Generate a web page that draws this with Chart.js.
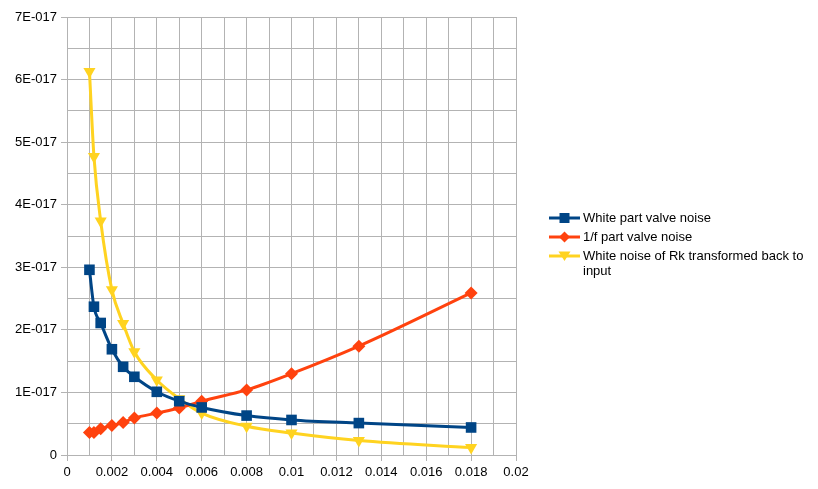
<!DOCTYPE html>
<html>
<head>
<meta charset="utf-8">
<script src="https://cdn.jsdelivr.net/npm/chart.js@4/dist/chart.umd.min.js"></script>
<style>
  html, body { margin: 0; padding: 0; background: #fff; }
  #wrap { width: 818px; height: 489px; position: relative; }
</style>
</head>
<body>
<div id="wrap"><canvas id="grafico" width="818" height="489"></canvas></div>
<script>
// valores (y em unidades de 1E-017)
const freq = [0.001, 0.0012, 0.0015, 0.002, 0.0025, 0.003, 0.004, 0.005, 0.006, 0.008, 0.01, 0.013, 0.018];
const whiteValve = [2.96, 2.37, 2.11, 1.69, 1.41, 1.25, 1.01, 0.86, 0.76, 0.63, 0.56, 0.51, 0.44];
const flickerValve = [0.36, 0.36, 0.42, 0.47, 0.52, 0.59, 0.67, 0.75, 0.86, 1.04, 1.3, 1.74, 2.59];
const whiteRk = [6.13, 4.77, 3.74, 2.64, 2.1, 1.65, 1.2, 0.9, 0.67, 0.46, 0.35, 0.23, 0.12];
const seriesNames = ['White part valve noise', '1/f part valve noise', ['White noise of Rk transformed back to', 'input']];

const grid = '#b3b3b3';
const cores = ['#004586', '#ff420e', '#ffd320'];

const pontos = vals => freq.map((f, i) => ({ x: f, y: vals[i] }));

// legenda desenhada à mão (linha + marcador, texto quebrado em duas linhas)
const legendaPlugin = {
  id: 'legenda',
  afterDraw(chart) {
    const ctx = chart.ctx;
    const linhas = [218, 237, 256];
    ctx.save();
    chart.data.datasets.forEach((ds, i) => {
      const y = linhas[i];
      ctx.strokeStyle = ds.borderColor;
      ctx.lineWidth = 3;
      ctx.beginPath();
      ctx.moveTo(549, y);
      ctx.lineTo(580, y);
      ctx.stroke();
      ctx.fillStyle = ds.borderColor;
      const cx = 564.5;
      ctx.beginPath();
      if (i === 0) {
        ctx.rect(cx - 5, y - 5, 10, 10);
      } else if (i === 1) {
        ctx.moveTo(cx, y - 5.5); ctx.lineTo(cx + 5.5, y); ctx.lineTo(cx, y + 5.5); ctx.lineTo(cx - 5.5, y);
      } else {
        ctx.moveTo(cx - 6, y - 4.5); ctx.lineTo(cx + 6, y - 4.5); ctx.lineTo(cx, y + 5);
      }
      ctx.closePath();
      ctx.fill();
      ctx.fillStyle = '#000';
      ctx.font = '13px "Liberation Sans", Arial, sans-serif';
      ctx.textBaseline = 'middle';
      const txt = [].concat(seriesNames[i]);
      txt.forEach((t, k) => ctx.fillText(t, 583, y + k * 15));
    });
    ctx.restore();
  }
};

new Chart(document.getElementById('grafico').getContext('2d'), {
  type: 'line',
  data: {
    datasets: [
      { label: 'White part valve noise', data: pontos(whiteValve), borderColor: cores[0], backgroundColor: cores[0],
        pointStyle: 'rect', pointRadius: 7.5 },
      { label: '1/f part valve noise', data: pontos(flickerValve), borderColor: cores[1], backgroundColor: cores[1],
        pointStyle: 'rectRot', pointRadius: 6.5 },
      { label: 'White noise of Rk transformed back to input', data: pontos(whiteRk), borderColor: cores[2], backgroundColor: cores[2],
        pointStyle: 'triangle', pointRotation: 180, pointRadius: 7 }
    ]
  },
  options: {
    responsive: false,
    animation: false,
    devicePixelRatio: 1,
    layout: { padding: { top: 17, right: 302, left: 0, bottom: 0 } },
    elements: {
      line: { borderWidth: 3, cubicInterpolationMode: 'monotone' },
      point: { borderWidth: 0, hoverRadius: 7 }
    },
    plugins: { legend: { display: false }, tooltip: { enabled: false } },
    scales: {
      x: {
        type: 'linear', min: 0, max: 0.02,
        afterFit: s => { s.height = 34; },
        ticks: {
          stepSize: 0.001, autoSkip: false, maxRotation: 0, padding: 4,
          color: '#000', font: { family: '"Liberation Sans", Arial, sans-serif', size: 13 },
          callback: v => { const n = Math.round(v * 1000); return n % 2 ? '' : String(n / 1000); }
        },
        grid: { color: grid, tickLength: 6, tickColor: c => (c.index % 2 ? 'rgba(0,0,0,0)' : grid) },
        border: { color: grid }
      },
      y: {
        min: 0, max: 7,
        afterFit: s => { s.width = 67; },
        ticks: {
          stepSize: 0.5, padding: 4,
          color: '#000', font: { family: '"Liberation Sans", Arial, sans-serif', size: 13 },
          callback: v => { const n = Math.round(v * 2); return n % 2 ? '' : (n === 0 ? '0' : (n / 2) + 'E-017'); }
        },
        grid: { color: grid, tickLength: 6, tickColor: c => (c.index % 2 ? 'rgba(0,0,0,0)' : grid) },
        border: { color: grid }
      }
    }
  },
  plugins: [legendaPlugin]
});
</script>
</body>
</html>
